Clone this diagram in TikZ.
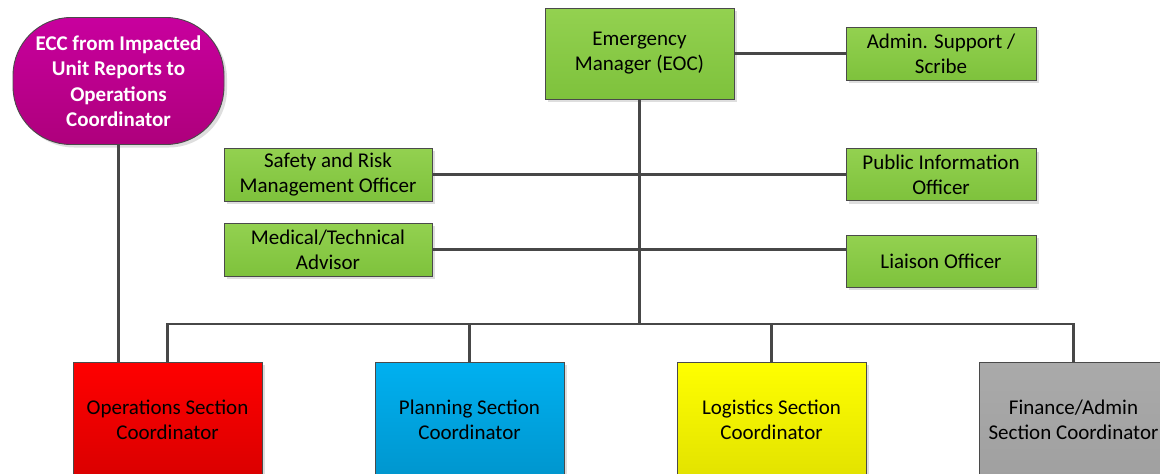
\documentclass[tikz,border=0pt]{standalone}
\usepackage{fontspec}
\setmainfont{Carlito}
\usetikzlibrary{shadows}
\definecolor{gtop}{HTML}{93D150}
\definecolor{gbot}{HTML}{7EC23C}
\definecolor{magtop}{HTML}{C8009E}
\definecolor{magbot}{HTML}{AE007C}
\definecolor{redtop}{HTML}{FF0000}
\definecolor{redbot}{HTML}{DA0000}
\definecolor{bluetop}{HTML}{00B0F0}
\definecolor{bluebot}{HTML}{0096CE}
\definecolor{yeltop}{HTML}{FFFF00}
\definecolor{yelbot}{HTML}{E2E200}
\definecolor{graytop}{HTML}{AAAAAA}
\definecolor{graybot}{HTML}{A0A0A0}
\definecolor{edge}{HTML}{4A4A4A}
\definecolor{wire}{HTML}{474747}
\tikzset{
  box/.style={draw=edge, line width=0.9pt, align=center, inner sep=2pt,
    font=\fontsize{21}{25}\selectfont, text=black,
    drop shadow={shadow xshift=3pt, shadow yshift=-3pt, fill=black!13, opacity=1}},
  greenbox/.style={box, top color=gtop, bottom color=gbot},
  sectbox/.style={box, minimum width=189pt, minimum height=115pt},
  wireline/.style={draw=wire, line width=2.4pt},
}
\begin{document}
\begin{tikzpicture}[x=1pt,y=-1pt]
\useasboundingbox (0,0) rectangle (1160,474);
\clip (0,0) rectangle (1160,474);
% top nodes
\node[box, minimum width=211pt, minimum height=127pt, rounded corners=58pt,
  font=\fontsize{21}{25.5}\selectfont\bfseries, text=white,
  top color=magtop, bottom color=magbot]
  (ecc) at (118.5,81) {ECC from Impacted\\Unit Reports to\\Operations\\Coordinator};
\node[greenbox, minimum width=189pt, minimum height=91pt] (eoc) at (639.5,53.5) {Emergency\\Manager (EOC)};
\node[greenbox, minimum width=190pt, minimum height=53pt] (adm) at (941,53.5) {Admin. Support /\\Scribe};
\node[greenbox, minimum width=208pt, minimum height=53pt] (saf) at (328,174.5) {Safety and Risk\\Management Officer};
\node[greenbox, minimum width=208pt, minimum height=53pt] (med) at (328,249.5) {Medical/Technical\\Advisor};
\node[greenbox, minimum width=190pt, minimum height=52pt] (pub) at (941,174.5) {Public Information\\Officer};
\node[greenbox, minimum width=190pt, minimum height=52pt] (lia) at (941,261) {Liaison Officer};
% section nodes
\node[sectbox, top color=redtop, bottom color=redbot] (ops) at (167.5,419.5) {Operations Section\\Coordinator};
\node[sectbox, top color=bluetop, bottom color=bluebot] (pla) at (469.5,419.5) {Planning Section\\Coordinator};
\node[sectbox, top color=yeltop, bottom color=yelbot] (log) at (771.5,419.5) {Logistics Section\\Coordinator};
\node[sectbox, top color=graytop, bottom color=graybot] (fin) at (1073.5,419.5) {Finance/Admin\\Section Coordinator};
% connectors
\coordinate (bus) at (639.5,324);
\draw[wireline] (ecc.south) -- (ecc.south |- ops.north);
\draw[wireline] (eoc.east) -- (adm.west);
\draw[wireline] (eoc.south) -- (bus);
\draw[wireline] (saf.east) -- (pub.west);
\draw[wireline] (med.east) -- (med.east -| lia.west);
\draw[wireline] (ops.north) -- (ops.north |- bus) -- (fin.north |- bus) -- (fin.north);
\draw[wireline] (pla.north) -- (pla.north |- bus);
\draw[wireline] (log.north) -- (log.north |- bus);
\end{tikzpicture}
\end{document}
